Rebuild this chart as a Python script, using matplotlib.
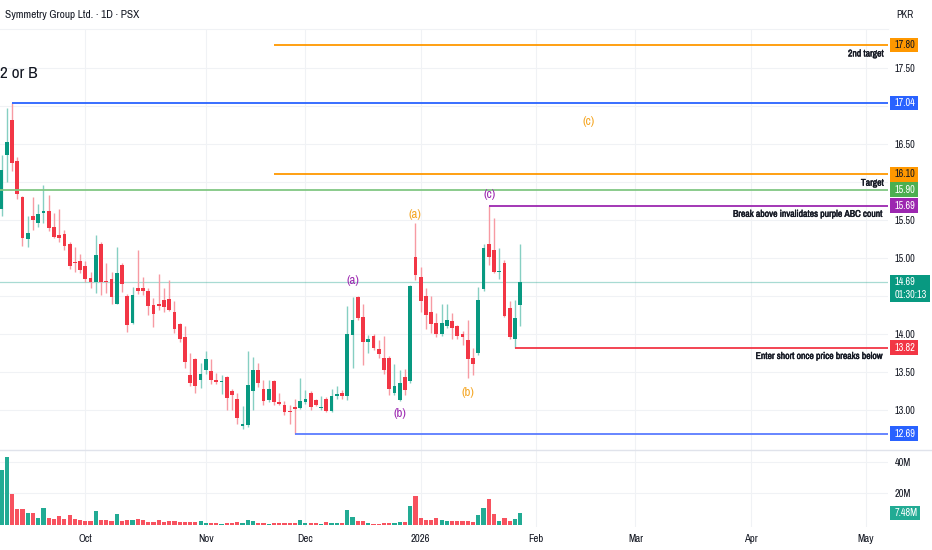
import numpy as np
import matplotlib
matplotlib.use('Agg')
import matplotlib.pyplot as plt
import matplotlib.patheffects as pe
from matplotlib import font_manager
from matplotlib.patches import Rectangle
from matplotlib.transforms import blended_transform_factory

# daily candles, one per PSX trading day (Sep 2025 -> end of Jan 2026)
opens = [15.64, 16.35, 16.81, 16.28, 15.80, 15.25, 15.55, 15.46, 15.59, 15.62,
         15.41, 15.30, 15.32, 15.19, 14.95, 14.96, 14.89, 14.74, 14.68, 15.19,
         14.70, 14.72, 14.40, 14.91, 14.50, 14.15, 14.61, 14.61, 14.57, 14.38,
         14.39, 14.45, 14.46, 14.29, 14.13, 13.96, 13.46, 13.67, 13.39, 13.53,
         13.51, 13.39, 13.37, 13.44, 13.25, 13.14, 12.79, 12.80, 13.25, 13.52,
         13.28, 13.13, 13.38, 13.11, 13.07, 12.99, 13.04, 13.03, 13.10, 13.22,
         13.13, 13.03, 13.14, 12.99, 13.18, 13.22, 13.18, 13.99, 14.49, 14.22,
         13.90, 13.98, 13.80, 13.69, 13.69, 13.23, 13.13, 13.44, 13.38, 15.01,
         14.75, 14.50, 14.29, 14.15, 14.00, 14.10, 14.17, 14.10, 14.00, 13.92,
         13.69, 13.75, 14.59, 15.18, 15.10, 14.82, 14.94, 14.34, 13.94, 14.38]
highs = [16.35, 16.98, 17.04, 16.33, 15.82, 15.55, 15.80, 15.71, 15.96, 15.83,
         15.59, 15.64, 15.37, 15.21, 15.15, 15.05, 14.96, 14.82, 15.30, 15.21,
         14.94, 14.82, 15.15, 14.93, 14.52, 14.62, 15.11, 14.75, 14.60, 14.48,
         14.79, 14.61, 14.71, 14.44, 14.15, 14.10, 13.75, 13.69, 13.62, 13.77,
         13.67, 13.49, 13.46, 13.45, 13.27, 13.22, 13.05, 13.78, 13.70, 13.62,
         13.40, 13.39, 13.40, 13.22, 13.12, 13.07, 13.15, 13.42, 13.26, 13.25,
         13.15, 13.18, 13.17, 13.28, 13.32, 13.26, 14.37, 14.49, 14.50, 14.39,
         13.99, 14.00, 13.92, 13.97, 13.71, 13.61, 13.53, 13.54, 14.65, 15.46,
         14.88, 14.61, 14.50, 14.27, 14.39, 14.39, 14.27, 14.12, 14.04, 14.18,
         13.81, 14.62, 15.19, 15.69, 15.52, 15.13, 14.97, 14.43, 14.45, 15.18]
lows = [15.55, 16.00, 16.14, 15.77, 15.16, 15.15, 15.37, 15.41, 15.46, 15.35,
        15.26, 15.21, 15.11, 14.86, 14.82, 14.80, 14.69, 14.61, 14.54, 14.51,
        14.54, 14.40, 14.39, 14.55, 14.03, 14.13, 14.53, 14.51, 14.25, 14.09,
        14.31, 14.29, 14.30, 14.01, 13.90, 13.55, 13.32, 13.22, 13.29, 13.48,
        13.34, 13.34, 13.21, 13.00, 13.00, 12.81, 12.75, 12.78, 13.00, 13.30,
        13.07, 13.11, 13.07, 13.06, 12.93, 12.82, 12.69, 13.01, 13.08, 13.00,
        13.05, 13.00, 12.98, 12.98, 13.15, 13.15, 13.13, 13.55, 14.18, 13.59,
        13.75, 13.79, 13.68, 13.48, 13.20, 13.20, 13.12, 13.20, 13.36, 14.71,
        14.29, 14.07, 14.01, 13.96, 13.97, 14.08, 13.94, 13.94, 13.86, 13.42,
        13.46, 13.72, 14.57, 14.91, 14.80, 14.72, 14.22, 13.93, 13.82, 14.10]
closes = [16.16, 16.53, 16.25, 15.84, 15.26, 15.33, 15.50, 15.58, 15.62, 15.39,
          15.28, 15.26, 15.16, 14.90, 14.93, 14.84, 14.72, 14.69, 15.04, 14.69,
          14.68, 14.49, 14.80, 14.66, 14.12, 14.51, 14.56, 14.56, 14.37, 14.26,
          14.37, 14.36, 14.31, 14.07, 13.94, 13.63, 13.36, 13.31, 13.47, 13.67,
          13.39, 13.37, 13.38, 13.16, 13.20, 12.89, 12.81, 13.33, 13.52, 13.36,
          13.12, 13.27, 13.10, 13.08, 12.98, 12.97, 13.02, 13.12, 13.15, 13.04,
          13.07, 13.04, 12.99, 13.18, 13.21, 13.19, 14.00, 14.19, 14.21, 13.90,
          13.93, 13.81, 13.74, 13.53, 13.28, 13.31, 13.36, 13.26, 14.63, 14.78,
          14.43, 14.25, 14.13, 14.00, 14.14, 14.18, 14.08, 13.98, 13.96, 13.67,
          13.61, 14.45, 15.13, 15.01, 14.82, 14.83, 14.24, 13.96, 14.21, 14.69]
volumes = [34.9, 43.0, 19.7, 10.2, 10.2, 7.4, 7.4, 4.7, 10.6, 4.7,
           3.8, 5.7, 3.8, 6.3, 4.0, 3.2, 2.8, 2.5, 8.9, 3.0,
           3.0, 2.5, 7.0, 2.5, 3.2, 3.2, 3.8, 3.0, 2.1, 2.1,
           3.0, 2.1, 2.8, 2.5, 2.1, 1.9, 1.9, 1.9, 2.5, 1.5,
           1.3, 1.1, 0.8, 1.5, 1.5, 1.9, 1.5, 3.0, 2.8, 1.3,
           1.1, 0.8, 1.4, 1.1, 1.5, 1.5, 1.5, 3.0, 1.5, 1.3,
           1.1, 0.8, 1.9, 1.3, 1.3, 1.1, 9.7, 4.9, 2.8, 2.5,
           1.3, 0.8, 0.8, 1.1, 1.5, 1.3, 1.9, 1.9, 11.9, 18.4,
           4.7, 3.4, 3.4, 4.7, 3.2, 2.3, 2.3, 2.5, 2.3, 2.5,
           2.1, 6.3, 10.8, 16.5, 7.0, 2.5, 4.4, 2.5, 3.8, 7.48]  # millions

month_labels = ['Oct', 'Nov', 'Dec', '2026', 'Feb', 'Mar', 'Apr', 'May']
month_bars = [16, 39, 58, 80, 102, 121, 143, 165]

# horizontal levels drawn on the chart
level_prices = [17.80, 17.04, 16.10, 15.90, 15.69, 13.82, 12.69]
level_notes = ['2nd target', '', 'Target', '', 'Break above invalidates purple ABC count',
               'Enter short once price breaks below', '']
level_from = [52, 2, 52, -1, 93, 98, 56]   # bar where each line starts
level_colors = ['#ff9800', '#2962ff', '#ff9800', '#81c784', '#9c27b0', '#f23645', '#5b7cff']
tag_colors = ['#ff9800', '#2962ff', '#ff9800', '#4caf50', '#9c27b0', '#f23645', '#2962ff']
tag_text = ['#131722', 'white', '#131722', 'white', 'white', 'white', 'white']

# wave labels: (text, bar, price, colour)
wave_labels = [('(a)', 67.1, 14.71, '#9c27b0'), ('(b)', 76.0, 12.96, '#9c27b0'),
               ('(c)', 93.1, 15.83, '#9c27b0'), ('(a)', 79.0, 15.57, '#f5a623'),
               ('(b)', 89.1, 13.23, '#f5a623'), ('(c)', 112.0, 16.79, '#f5a623')]

title = 'Symmetry Group Ltd. \u00b7 1D \u00b7 PSX'
last_price = 14.69
countdown = '01:30:13'

# TradingView text is narrow; take a narrow/condensed face if one is installed
fonts = font_manager.fontManager.ttflist
narrow = [f for f in fonts if 'Narrow' in f.name or 'Condensed' in f.name
          or f.stretch in ('condensed', 'semi-condensed')]
narrow.sort(key=lambda f: 'Narrow' not in f.name)
if narrow:
    plt.rcParams['font.family'] = [narrow[0].name, 'DejaVu Sans']
    if 'Narrow' not in narrow[0].name and 'Condensed' not in narrow[0].name:
        plt.rcParams['font.stretch'] = narrow[0].stretch
else:
    plt.rcParams['font.family'] = ['Liberation Sans', 'DejaVu Sans']

UP, DOWN = '#089981', '#f23645'
TXT = '#131722'
GRID = '#f0f2f5'

W, H = 932, 550
AXW = 888  # chart width in px, price scale to the right
fig = plt.figure(figsize=(W / 100, H / 100), dpi=100)

# scale all font sizes so the title is about as wide as in the screenshot
probe = fig.text(0, 0, title, fontsize=10)
k = 1.10 * 122 / probe.get_window_extent(fig.canvas.get_renderer()).width * 10 / 8.2
probe.remove()

ax = fig.add_axes([0, 1 - 450 / H, AXW / W, 421 / H])
axv = fig.add_axes([0, 1 - 527 / H, AXW / W, 77 / H], sharex=ax)

o, hi, lo, c = map(np.array, (opens, highs, lows, closes))
x = np.arange(len(o))
up = c >= o

ax.vlines(x, lo, hi, colors=np.where(up, '#86cfc2', '#f79aa3'), lw=1, zorder=3)
ax.bar(x, np.maximum(np.abs(c - o), 0.015), bottom=np.minimum(o, c), width=0.72,
       color=np.where(up, UP, DOWN), zorder=4)

axv.bar(x, volumes, width=0.8, color=np.where(up, '#22ab94', '#f7525f'), zorder=3)

xmin, xmax = -0.29, 169.2
ax.set_xlim(xmin, xmax)
ax.set_ylim(12.474, 18.013)
axv.set_ylim(-1.27, 47.6)

ppu = 421 / (18.013 - 12.474)   # px per price unit
vppu = 77 / (47.6 + 1.27)

# current price line
ax.axhline(last_price, color=UP, lw=0.9, alpha=0.35, zorder=2)

heavy = [pe.withStroke(linewidth=0.3, foreground=TXT)]
trans = blended_transform_factory(ax.transAxes, ax.transData)
for p, note, start, lc in zip(level_prices, level_notes, level_from, level_colors):
    ax.plot([max(start, xmin), xmax], [p, p], color=lc, lw=1.3, zorder=5, solid_capstyle='butt')
    if note:
        ax.annotate(note, (884 / AXW, p), xycoords=trans, xytext=(0, -6.3),
                    textcoords='offset points', ha='right', va='center',
                    fontsize=7.0 * k, color=TXT, fontweight='bold', zorder=6,
                    path_effects=heavy)

for txt, bx, py, col in wave_labels:
    ax.text(bx, py, txt, color=col, fontsize=9.3 * k, ha='center', va='center', zorder=6)


def tag(axis, y, label, bg, fg, w_px, h_px, scale):
    tr = blended_transform_factory(axis.transAxes, axis.transData)
    x0 = 890 / AXW
    axis.add_patch(Rectangle((x0, y - h_px / 2 / scale), w_px / AXW, h_px / scale,
                             transform=tr, facecolor=bg, edgecolor='none',
                             clip_on=False, zorder=8))
    axis.text(x0 + 4.5 / AXW, y, label, transform=tr, ha='left', va='center',
              fontsize=7.4 * k, color=fg, clip_on=False, zorder=9, linespacing=1.35)


tag_centres = list(level_prices) + [last_price - 0.09]
for p, bg, fg in zip(level_prices, tag_colors, tag_text):
    tag(ax, p, f'{p:.2f}', bg, fg, 28, 14.5, ppu)
tag(ax, last_price - 0.09, f'{last_price:.2f}\n{countdown}', UP, 'white', 40, 27.5, ppu)
tag(axv, volumes[-1], f'{volumes[-1]:.2f}M', '#22ab94', 'white', 30, 13.6, vppu)

# axes cosmetics
for a in (ax, axv):
    for s in a.spines.values():
        s.set_visible(False)
    a.set_xticks(month_bars)
    a.grid(True, color=GRID, lw=0.8, zorder=0)
    a.yaxis.tick_right()
    a.tick_params(length=0, labelsize=7.4 * k, labelcolor=TXT, pad=5)

ax.tick_params(labelbottom=False)
ticks = np.arange(13.0, 17.51, 0.5)
ax.set_yticks(ticks)
# price scale labels hidden behind the coloured tags
ax.set_yticklabels(['' if min(abs(t - p) for p in tag_centres) < 0.16 else f'{t:.2f}'
                    for t in ticks])

axv.set_yticks([20, 40])
axv.set_yticklabels(['20M', '40M'])
axv.set_xticklabels(month_labels)
axv.tick_params(axis='x', pad=5, labelsize=7.8 * k)
for lab in axv.get_xticklabels():
    if lab.get_text() == '2026':
        lab.set_fontweight('bold')

# pane separators
fig.add_artist(plt.Line2D([0, 1], [1 - 450 / H] * 2, color='#e0e3eb', lw=1))
fig.add_artist(plt.Line2D([0, AXW / W], [1 - 29 / H] * 2, color=GRID, lw=0.8))

fig.text(5 / W, 1 - 15 / H, title, fontsize=8.2 * k, color=TXT, va='center', ha='left')
fig.text(905 / W, 1 - 15 / H, 'PKR', fontsize=7.4 * k, color=TXT, va='center', ha='center')
fig.text(0, 1 - 74 / H, '2 or B', fontsize=12.5 * k, color=TXT, va='center', ha='left')

fig.savefig('out.png', dpi=100, facecolor='white')
